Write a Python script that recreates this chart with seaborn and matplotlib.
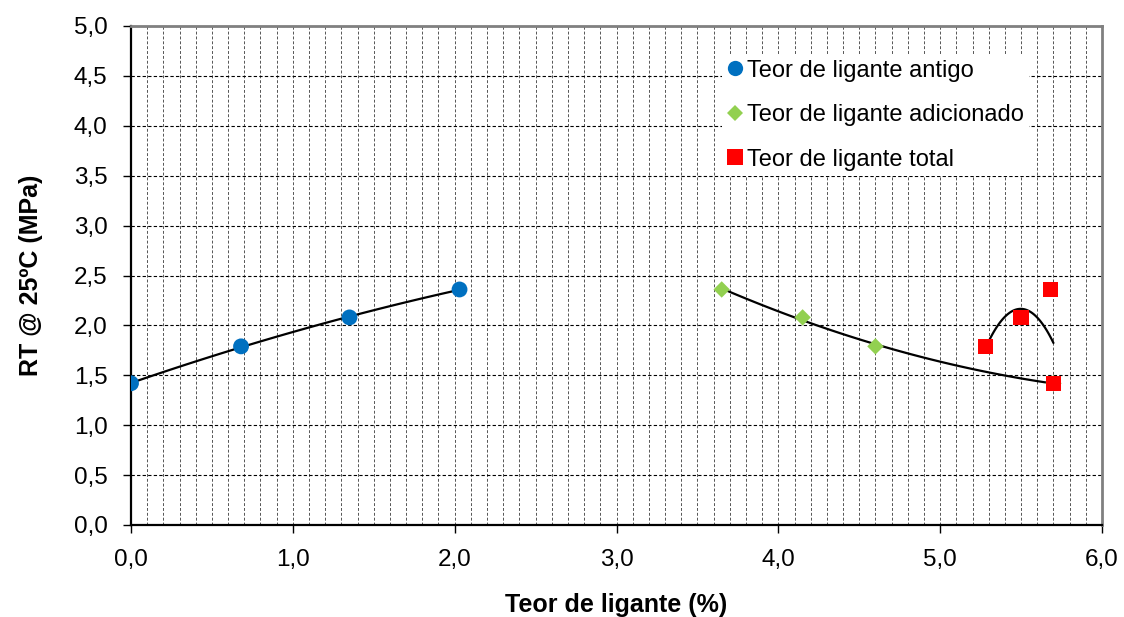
import numpy as np
import pandas as pd
import matplotlib
matplotlib.use("Agg")
import matplotlib.pyplot as plt
import seaborn as sns
from matplotlib.ticker import MultipleLocator, FuncFormatter
from matplotlib.lines import Line2D

# ---- data ----
rt = [1.42, 1.79, 2.08, 2.36]
x_antigo = [0.0, 0.68, 1.35, 2.03]
x_adicionado = [5.70, 4.60, 4.15, 3.65]
x_total = [5.70, 5.28, 5.50, 5.68]
labels = ["Teor de ligante antigo", "Teor de ligante adicionado", "Teor de ligante total"]
colors = ["#0070C0", "#92D050", "#FF0000"]
markers = ["o", "D", "s"]

sns.set_theme(style="white")
plt.rcParams['font.family'] = ['Liberation Sans', 'DejaVu Sans']
plt.rcParams['text.color'] = 'black'
plt.rcParams['axes.labelcolor'] = 'black'
plt.rcParams['xtick.color'] = 'black'
plt.rcParams['ytick.color'] = 'black'

fig = plt.figure(figsize=(11.24, 6.17), dpi=100)
ax = fig.add_axes([131/1124, 1-525/617, (1102-131)/1124, (525-26)/617])

series = [x_antigo, x_adicionado, x_total]
sizes = [130, 70, 120]
for xs, lab, c, m, s in zip(series, labels, colors, markers, sizes):
    df = pd.DataFrame({"x": xs, "y": rt})
    sns.regplot(data=df, x="x", y="y", order=2, ci=None, scatter=False,
                truncate=True, ax=ax, line_kws={"color": "black", "lw": 1.6, "zorder": 3})
    sns.scatterplot(data=df, x="x", y="y", color=c, marker=m, s=s,
                    edgecolor="none", ax=ax, zorder=4)

ax.set_xlim(0, 6)
ax.set_ylim(0, 5)
ax.xaxis.set_major_locator(MultipleLocator(1.0))
ax.xaxis.set_minor_locator(MultipleLocator(0.1))
ax.yaxis.set_major_locator(MultipleLocator(0.5))
fmt = FuncFormatter(lambda v, p: f"{v:.1f}".replace(".", ","))
ax.xaxis.set_major_formatter(fmt)
ax.yaxis.set_major_formatter(fmt)

ax.grid(True, which="major", axis="y", color="black", linestyle=(0, (3, 2)), lw=0.8)
ax.grid(True, which="minor", axis="x", color="#555555", linestyle=(0, (3, 2)), lw=0.7)
ax.grid(True, which="major", axis="x", color="#555555", linestyle=(0, (3, 2)), lw=0.7)
ax.set_axisbelow(True)

ax.tick_params(axis="both", which="major", direction="out", length=6, width=1,
               color="black", labelcolor="black", labelsize=17.5, pad=11, bottom=True, left=True)
ax.tick_params(axis="x", which="minor", length=0)
for side in ["left", "bottom"]:
    ax.spines[side].set_color("black")
    ax.spines[side].set_linewidth(1.6)
for side in ["top", "right"]:
    ax.spines[side].set_color("#808080")
    ax.spines[side].set_linewidth(2)

ax.set_xlabel("Teor de ligante (%)", fontsize=18, fontweight="bold", labelpad=16, color="black")
ax.set_ylabel("RT @ 25ºC (MPa)", fontsize=18, fontweight="bold", labelpad=22, color="black")

handles = [Line2D([], [], linestyle="none", marker=m, color=c, markersize=ms, markeredgewidth=0)
           for m, c, ms in zip(markers, colors, [11, 8, 11])]
leg = ax.legend(handles, labels, loc="upper left", bbox_to_anchor=(710/1124, 1-42/617),
                bbox_transform=fig.transFigure, fontsize=17, frameon=True, fancybox=False,
                facecolor="white", edgecolor="none", framealpha=1, handlelength=0.6,
                handletextpad=0.2, labelspacing=0.95, borderpad=0.25, labelcolor="black")
leg.set_zorder(5)

fig.savefig("out.png", dpi=100)
